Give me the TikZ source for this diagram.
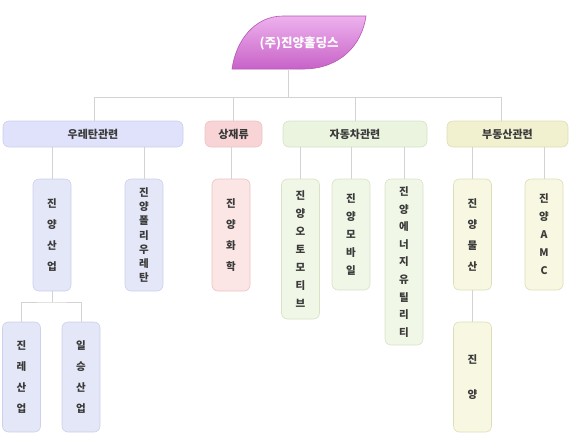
\documentclass[tikz,border=0pt]{standalone}
\usepackage{fontspec}
\setmainfont{Noto Sans CJK KR}

\definecolor{ink}{HTML}{3A3A3A}
\definecolor{linegray}{HTML}{D3D3D3}
\definecolor{leafT}{HTML}{EDB2ED}
\definecolor{leafB}{HTML}{C862C8}
\definecolor{leafD}{HTML}{B656B6}
\definecolor{ureA}{HTML}{DFE2FA}
\definecolor{ureC}{HTML}{E4E7F8}
\definecolor{ureL}{HTML}{CCD0EC}
\definecolor{sangA}{HTML}{F8D4D6}
\definecolor{sangC}{HTML}{FBE5E5}
\definecolor{sangL}{HTML}{EBC3C5}
\definecolor{autoA}{HTML}{EBF4DE}
\definecolor{autoC}{HTML}{F0F7E6}
\definecolor{autoL}{HTML}{D7E2C6}
\definecolor{estA}{HTML}{F1F1D0}
\definecolor{estC}{HTML}{F8F8E2}
\definecolor{estL}{HTML}{DDDDB9}

\tikzset{
  link/.style={draw=linegray, line width=0.9pt},
  leaf/.style={top color=leafT, bottom color=leafB, draw=leafD, line width=0.6pt},
  catbox/.style={rounded corners=6pt, minimum height=26pt, inner sep=0pt,
    line width=0.6pt, text=ink, font=\fontsize{11}{13}\selectfont\bfseries},
  compbox/.style={rounded corners=6pt, minimum width=38pt, inner sep=0pt,
    line width=0.6pt, text=ink, align=center,
    font=\fontsize{10.5}{#1}\selectfont\bfseries}
}

\begin{document}
\begin{tikzpicture}[x=1pt,y=-1pt]
  \useasboundingbox (0,0) rectangle (580,445);

  % Holding company
  \draw[leaf] (232,69) .. controls (236,40) and (255,16) .. (283,16)
    -- (366,16) .. controls (362,45) and (340,69) .. (303,69) -- cycle;
  \node[text=white, font=\fontsize{12.5}{14}\selectfont\bfseries] (hold) at (299,43) {(주)진양홀딩스};
  \coordinate (holdfoot) at (288,69);

  % Business groups
  \node[catbox, fill=ureA, draw=ureL, minimum width=180pt] (ure) at (93,134) {우레탄관련};
  \node[catbox, fill=sangA, draw=sangL, minimum width=57pt] (sang) at (233.5,134) {상재류};
  \node[catbox, fill=autoA, draw=autoL, minimum width=144pt] (auto) at (355,134) {자동차관련};
  \node[catbox, fill=estA, draw=estL, minimum width=121pt] (est) at (507.5,134) {부동산관련};

  % Companies
  \node[compbox=21, fill=ureC, draw=ureL, minimum height=112pt] (ureA) at (52,235) {진\\양\\산\\업};
  \node[compbox=14.3, fill=ureC, draw=ureL, minimum height=112pt] (ureB) at (144,235) {진\\양\\폴\\리\\우\\레\\탄};
  \node[compbox=21, fill=ureC, draw=ureL, minimum height=110pt] (ureAa) at (21.5,377) {진\\레\\산\\업};
  \node[compbox=21, fill=ureC, draw=ureL, minimum height=110pt] (ureAb) at (81,377) {일\\승\\산\\업};
  \node[compbox=21, fill=sangC, draw=sangL, minimum height=112pt] (sangA) at (231,235) {진\\양\\화\\학};
  \node[compbox=18, fill=autoC, draw=autoL, minimum height=140pt] (autoA) at (300.5,249) {진\\양\\오\\토\\모\\티\\브};
  \node[compbox=18, fill=autoC, draw=autoL, minimum height=111pt] (autoB) at (351,234.5) {진\\양\\모\\바\\일};
  \node[compbox=17.6, fill=autoC, draw=autoL, minimum height=166pt] (autoC) at (404,262) {진\\양\\에\\너\\지\\유\\틸\\리\\티};
  \node[compbox=21, fill=estC, draw=estL, minimum height=111pt] (estA) at (472.5,234.5) {진\\양\\물\\산};
  \node[compbox=18, fill=estC, draw=estL, minimum height=111pt] (estB) at (544,234.5) {진\\양\\A\\M\\C};
  \node[compbox=35, fill=estC, draw=estL, minimum height=110pt] (estAa) at (472.5,377) {진\\양};

  % Connectors
  \coordinate (busL) at (94,97);
  \coordinate (busR) at (501,97);
  \coordinate (ureFork) at (52,302);
  \draw[link] (holdfoot) -- (holdfoot |- busL);
  \draw[link] (busL) -- (busR);
  \draw[link] (busL) -- (busL |- ure.north);
  \draw[link] (sang.north) -- (sang.north |- busL);
  \draw[link] (auto.north) -- (auto.north |- busL);
  \draw[link] (busR) -- (busR |- est.north);
  \foreach \c/\p in {ureA/ure, ureB/ure, sangA/sang, autoA/auto, autoB/auto, autoC/auto, estA/est, estB/est}
    \draw[link] (\c.north) -- (\c.north |- \p.south);
  \draw[link] (ureA.south) -- (ureFork);
  \draw[link] (ureAa.north) |- (ureFork) -| (ureAb.north);
  \draw[link] (estA.south) -- (estAa.north);
\end{tikzpicture}
\end{document}
